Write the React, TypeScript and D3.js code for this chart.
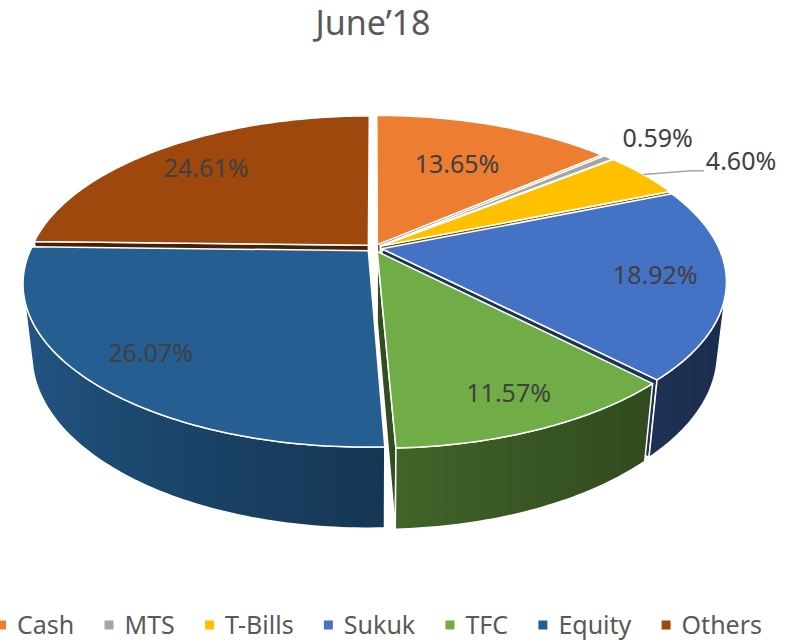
import React, { useRef, useEffect } from 'react';
import * as d3 from 'd3';

// chart data
const title = 'June’18';
const categories = ['Cash', 'MTS', 'T-Bills', 'Sukuk', 'TFC', 'Equity', 'Others'];
const shares = [13.65, 0.59, 4.6, 18.92, 11.57, 26.07, 24.61];
const colors = ['#ED7D31', '#A5A5A5', '#FFC000', '#4472C4', '#70AD47', '#255E91', '#9E480E'];

const WIDTH = 805;
const HEIGHT = 640;

// 3D view of the pie (unit radius disc, camera looking down at the centre)
const CX = 374;
const CY = 248;
const TILT = (27.6 * Math.PI) / 180;
const DIST = 4.452;
const FOCAL = 1500;
const THICK = 0.24;
const EXPLODE = 0.024;

// where the inside labels sit along each bisector (fraction of radius), outside ones past the rim
const labelRadius = [0.64, 1.25, 1.25, 0.8, 0.83, 0.81, 0.77];

const sinT = Math.sin(TILT);
const cosT = Math.cos(TILT);
const camZ = DIST * cosT;

function project(x: number, y: number, z: number): [number, number] {
  const depth = DIST - y * sinT - z * cosT;
  const up = y * cosT - z * sinT;
  return [CX + (FOCAL * x) / depth, CY - (FOCAL * up) / depth];
}

function depthOf(x: number, y: number, z: number) {
  return DIST - y * sinT - z * cosT;
}

function samples(a0: number, a1: number) {
  const n = Math.max(2, Math.ceil((a1 - a0) / (Math.PI / 180)));
  return d3.range(n + 1).map((k) => a0 + ((a1 - a0) * k) / n);
}

// side shading: lit from the left, dark towards the right
function sideShade(base: string, th: number) {
  const f = 0.4 + 0.55 * Math.pow((1 - Math.cos(th - (100 * Math.PI) / 180)) / 2, 1.2);
  const c = d3.rgb(base);
  return d3.rgb(c.r * f, c.g * f, c.b * f).formatHex();
}

function darker(base: string, f: number) {
  const c = d3.rgb(base);
  return d3.rgb(c.r * f, c.g * f, c.b * f).formatHex();
}

export default function App() {
  const svgRef = useRef<SVGSVGElement>(null);

  useEffect(() => {
    if (!svgRef.current) return;
    const svg = d3.select(svgRef.current);
    svg.selectAll('*').remove();

    const pie = d3.pie<number>().sort(null).value((d) => d);
    const arcs = pie(shares);
    const closed = d3.line<[number, number]>().curve(d3.curveLinearClosed);
    const color = d3.scaleOrdinal<string, string>().domain(categories).range(colors);

    const slices = arcs.map((a, i) => {
      const mid = (a.startAngle + a.endAngle) / 2;
      const ox = EXPLODE * Math.sin(mid);
      const oz = -EXPLODE * Math.cos(mid);
      const at = (r: number, th: number, y: number) =>
        project(ox + r * Math.sin(th), y, oz - r * Math.cos(th));
      return { i, name: categories[i], a0: a.startAngle, a1: a.endAngle, mid, ox, oz, at, value: a.data };
    });

    const defs = svg.append('defs');
    const gWalls = svg.append('g');
    const gSides = svg.append('g');
    const gTops = svg.append('g');

    // radial walls visible through the gaps
    const walls: { d: string; fill: string; depth: number }[] = [];
    slices.forEach((s) => {
      [
        { a: s.a0, nx: -Math.cos(s.a0), nz: -Math.sin(s.a0) },
        { a: s.a1, nx: Math.cos(s.a1), nz: Math.sin(s.a1) },
      ].forEach(({ a, nx, nz }) => {
        const px = s.ox + 0.5 * Math.sin(a);
        const pz = s.oz - 0.5 * Math.cos(a);
        const dot = nx * (0 - px) + nz * (camZ - pz);
        if (dot <= 0) return;
        const pts: [number, number][] = [
          project(s.ox, 0, s.oz),
          s.at(1, a, 0),
          s.at(1, a, -THICK),
          project(s.ox, -THICK, s.oz),
        ];
        walls.push({ d: closed(pts) || '', fill: darker(color(s.name), 0.45), depth: depthOf(px, -THICK / 2, pz) });
      });
    });
    walls
      .sort((a, b) => b.depth - a.depth)
      .forEach((w) => {
        gWalls
          .append('path')
          .attr('d', w.d)
          .attr('fill', w.fill)
          .attr('stroke', '#fff')
          .attr('stroke-width', 1.5)
          .attr('stroke-linejoin', 'round');
      });

    // outer curved walls (front half only)
    const vis0 = Math.acos(-1 / camZ);
    const vis1 = 2 * Math.PI - vis0;
    slices.forEach((s) => {
      const w0 = Math.max(s.a0, vis0);
      const w1 = Math.min(s.a1, vis1);
      if (w1 <= w0) return;
      const angles = samples(w0, w1);
      const top = angles.map((th) => s.at(1, th, 0));
      const bottom = angles
        .slice()
        .reverse()
        .map((th) => s.at(1, th, -THICK));
      const xLeft = s.at(1, w1, 0)[0];
      const xRight = s.at(1, w0, 0)[0];
      const grad = defs
        .append('linearGradient')
        .attr('id', `side-${s.i}`)
        .attr('gradientUnits', 'userSpaceOnUse')
        .attr('x1', xLeft)
        .attr('x2', xRight)
        .attr('y1', 0)
        .attr('y2', 0);
      angles
        .slice()
        .reverse()
        .forEach((th) => {
          const x = s.at(1, th, 0)[0];
          grad
            .append('stop')
            .attr('offset', Math.min(1, Math.max(0, (x - xLeft) / (xRight - xLeft))))
            .attr('stop-color', sideShade(color(s.name), th));
        });
      gSides
        .append('path')
        .attr('d', closed([...top, ...bottom]) || '')
        .attr('fill', `url(#side-${s.i})`)
        .attr('stroke', '#fff')
        .attr('stroke-width', 1.5)
        .attr('stroke-linejoin', 'round');
    });

    // top faces
    slices.forEach((s) => {
      const pts: [number, number][] = [project(s.ox, 0, s.oz), ...samples(s.a0, s.a1).map((th) => s.at(1, th, 0))];
      gTops
        .append('path')
        .attr('d', closed(pts) || '')
        .attr('fill', color(s.name))
        .attr('stroke', '#fff')
        .attr('stroke-width', 1.5)
        .attr('stroke-linejoin', 'round');
    });

    // data labels
    const gLabels = svg.append('g').attr('font-size', 25).attr('fill', '#404040');
    let lastOutside: [number, number] | null = null;
    slices.forEach((s) => {
      const text = `${s.value.toFixed(2)}%`;
      const [x, y] = s.at(labelRadius[s.i], s.mid, 0);
      if (labelRadius[s.i] < 1) {
        gLabels.append('text').attr('x', x).attr('y', y).attr('dy', '0.35em').attr('text-anchor', 'middle').text(text);
        return;
      }
      if (lastOutside && Math.abs(lastOutside[1] - y) < 40) {
        // crowded: push the label to the right and draw a leader line
        const [rx, ry] = s.at(1, s.mid, 0);
        gLabels
          .append('path')
          .attr('d', d3.line()([[rx, ry], [x - 11, y + 12], [x + 2, y + 12]]) || '')
          .attr('fill', 'none')
          .attr('stroke', '#A6A6A6')
          .attr('stroke-width', 1.5);
        gLabels.append('text').attr('x', x + 4).attr('y', y + 3).attr('dy', '0.35em').attr('text-anchor', 'start').text(text);
      } else {
        gLabels.append('text').attr('x', x).attr('y', y).attr('dy', '0.35em').attr('text-anchor', 'middle').text(text);
      }
      lastOutside = [x, y];
    });

    // title
    svg
      .append('text')
      .attr('x', 373)
      .attr('y', 35)
      .attr('text-anchor', 'middle')
      .attr('font-size', 34)
      .attr('fill', '#595959')
      .text(title);

    // legend spread over the same span as the original (it runs off the left edge)
    const legend = svg.append('g').attr('font-size', 25).attr('fill', '#595959');
    const items = categories.map((name) => {
      const g = legend.append('g');
      g.append('rect').attr('width', 9).attr('height', 9).attr('y', -4.5).attr('fill', color(name));
      const t = g.append('text').attr('x', 20).attr('dy', '0.35em').text(name);
      const w = (t.node() as SVGTextElement).getComputedTextLength();
      return { g, w: 20 + w };
    });
    const left = -3;
    const right = 762;
    const spacing = (right - left - d3.sum(items, (d) => d.w)) / (items.length - 1);
    let x = left;
    items.forEach((it) => {
      it.g.attr('transform', `translate(${x},625)`);
      x += it.w + spacing;
    });
  }, []);

  return (
    <svg
      ref={svgRef}
      width={WIDTH}
      height={HEIGHT}
      style={{ position: 'absolute', left: 0, top: 0, fontFamily: '"Noto Sans", sans-serif', background: '#fff' }}
    />
  );
}
